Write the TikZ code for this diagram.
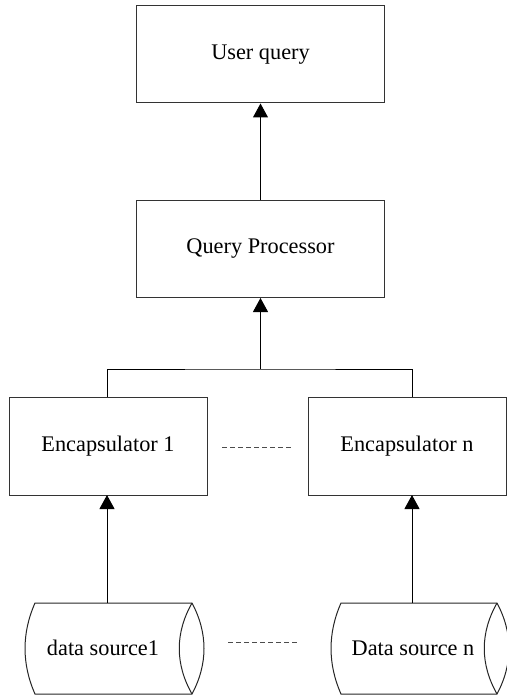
\documentclass[tikz,border=0pt]{standalone}
\usepackage{fontspec}
\setmainfont{Liberation Serif}
\usetikzlibrary{arrows.meta}
\begin{document}
\begin{tikzpicture}[x=1pt,y=-1pt,
  box/.style={draw=black!80,line width=1pt,minimum width=248pt,minimum height=97pt,inner sep=0pt,font=\fontsize{22.3}{26}\selectfont},
  ebox/.style={draw=black!80,line width=1pt,minimum width=198pt,minimum height=98pt,inner sep=0pt,font=\fontsize{22.3}{26}\selectfont},
  lbl/.style={inner sep=0pt,font=\fontsize{22.3}{26}\selectfont},
  conn/.style={line width=1pt,black},
  arr/.style={conn,-{Triangle[width=15pt,length=14pt]}},
  dots/.style={line width=1pt,black!70,dash pattern=on 5pt off 3pt},
  cyl/.style={draw=black!85,line width=1pt,line join=miter}
]
\useasboundingbox (0,0) rectangle (506,695);
% boxes
\node[box] (uq) at (260.5,54.5) {User query};
\node[box] (qp) at (260.5,249) {Query Processor};
\node[ebox] (e1) at (108,446) {Encapsulator 1};
\node[ebox] (en) at (407,446) {Encapsulator n};
% cylinders
\draw[cyl] (35,603) -- (192,603) .. controls (208,633) and (208,664) .. (192,694) -- (35,694) .. controls (21.7,664) and (21.7,633) .. cycle;
\draw[cyl] (192,603) .. controls (175,633) and (175,664) .. (192,694);
\draw[cyl] (341,603) -- (497,603) .. controls (513,633) and (513,664) .. (497,694) -- (341,694) .. controls (327.7,664) and (327.7,633) .. cycle;
\draw[cyl] (497,603) .. controls (480,633) and (480,664) .. (497,694);
\node[lbl] (d1) at (103,648) {data source1};
\node[lbl] (dn) at (413,648) {Data source n};
\coordinate (d1top) at (107,603);
\coordinate (dntop) at (412,603);
% connectors
\draw[arr] (qp.north) -- (uq.south);
\coordinate (br) at (260.5,369);
\draw[conn] (107,397) |- (br) -| (412,397);
\draw[arr] (br) -- (qp.south);
\draw[arr] (d1top) -- (107,495);
\draw[arr] (dntop) -- (412,495);
% dashed separators
\draw[dots] (222,447) -- (292,447);
\draw[dots] (228,642) -- (298,642);
\end{tikzpicture}
\end{document}
